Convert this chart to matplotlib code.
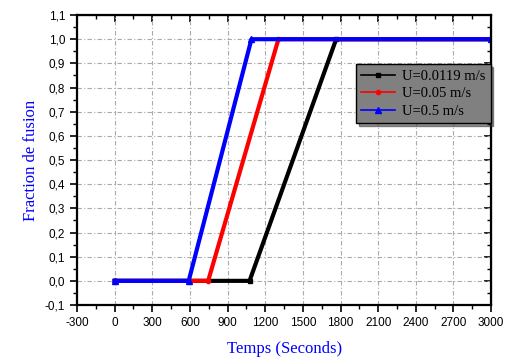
import matplotlib
matplotlib.use("Agg")
import matplotlib.pyplot as plt
from matplotlib.ticker import MultipleLocator, FuncFormatter

plt.rcParams["axes.unicode_minus"] = False

# Breakpoints of each curve (time in s, melt fraction)
t_u0119 = [0, 1075, 1765, 3000]
f_u0119 = [0.0, 0.0, 1.0, 1.0]
t_u05 = [0, 745, 1305, 3000]
f_u05 = [0.0, 0.0, 1.0, 1.0]
t_u5 = [0, 590, 1090, 3000]
f_u5 = [0.0, 0.0, 1.0, 1.0]

labels = ["U=0.0119 m/s", "U=0.05 m/s", "U=0.5 m/s"]
xticks = list(range(-300, 3001, 300))

fig = plt.figure(figsize=(5.1, 3.58), dpi=100)
ax = fig.add_axes([0.151, 0.148, 0.812, 0.810])

ax.plot(t_u0119, f_u0119, color="black", lw=3, marker="s", ms=3, label=labels[0])
ax.plot(t_u05, f_u05, color="red", lw=3, marker="o", ms=3, label=labels[1])
ax.plot(t_u5, f_u5, color="blue", lw=3, marker="^", ms=4, label=labels[2])

ax.set_xlim(-300, 3000)
ax.set_ylim(-0.1, 1.1)
ax.set_xticks(xticks)
ax.xaxis.set_minor_locator(MultipleLocator(150))
ax.yaxis.set_major_locator(MultipleLocator(0.1))
ax.yaxis.set_minor_locator(MultipleLocator(0.05))
ax.yaxis.set_major_formatter(FuncFormatter(lambda v, p: ("%.1f" % v).replace(".", ",").replace("-0,0", "0,0")))

ax.grid(True, which="major", color="#aaaaaa", linestyle=(0, (4, 2, 1, 2)), lw=0.8)
for s in ax.spines.values():
    s.set_linewidth(1.6)

ax.tick_params(which="major", direction="out", length=5, width=1.2, labelsize=8.5,
               labelfontfamily="Liberation Sans")
ax.tick_params(which="minor", direction="out", length=3, width=1.0)

top = ax.secondary_xaxis("top")
top.set_xticks(xticks)
top.xaxis.set_minor_locator(MultipleLocator(150))
top.tick_params(which="major", direction="in", length=5, width=1.2, labeltop=False)
top.tick_params(which="minor", direction="in", length=3, width=1.0)
right = ax.secondary_yaxis("right")
right.yaxis.set_major_locator(MultipleLocator(0.1))
right.yaxis.set_minor_locator(MultipleLocator(0.05))
right.tick_params(which="major", direction="in", length=5, width=1.2, labelright=False)
right.tick_params(which="minor", direction="in", length=3, width=1.0)

ax.set_xlabel("Temps (Seconds)", color="blue", fontsize=12, family="Liberation Serif", labelpad=9)
ax.set_ylabel("Fraction de fusion", color="blue", fontsize=12, family="Liberation Serif", labelpad=4)

leg = ax.legend(loc="upper left", bbox_to_anchor=(0.674, 0.83), frameon=True, fancybox=False,
                shadow=True, prop={"family": "Liberation Serif", "size": 10.5},
                handlelength=2.3, borderpad=0.35, labelspacing=0.3, handletextpad=0.5,
                borderaxespad=0)
leg.get_frame().set_facecolor("#808080")
leg.get_frame().set_edgecolor("black")
leg.get_frame().set_alpha(1)
leg.get_frame().set_linewidth(1.0)
for h in leg.legend_handles:
    h.set_linewidth(1.2)

fig.savefig("out.png", dpi=100)
